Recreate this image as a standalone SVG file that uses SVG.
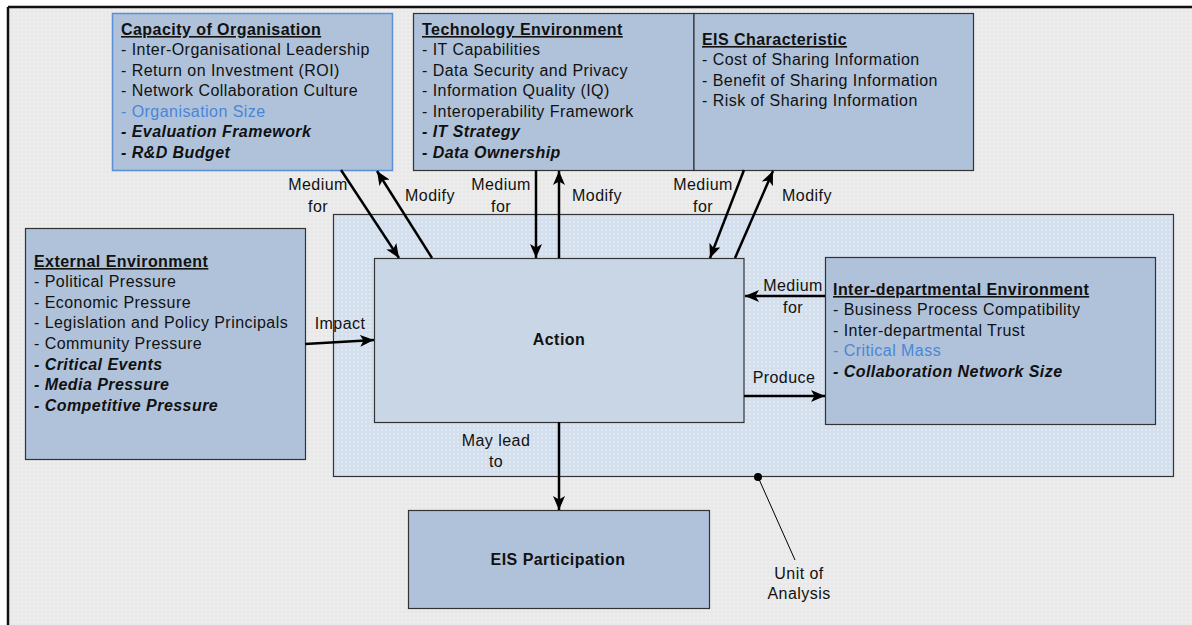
<svg xmlns="http://www.w3.org/2000/svg" width="1192" height="625" viewBox="0 0 1192 625">
  <defs>
    <!-- dotted textures for the page and the unit-of-analysis area -->
    <pattern id="dotsGrey" width="4" height="4" patternUnits="userSpaceOnUse">
      <rect width="4" height="4" fill="#e9e9e9"/>
      <circle cx="2" cy="2" r="1" fill="#f2f2f2"/>
    </pattern>
    <pattern id="dotsBlue" width="4" height="4" patternUnits="userSpaceOnUse">
      <rect width="4" height="4" fill="#d3dfed"/>
      <circle cx="2" cy="2" r="1" fill="#e4ecf5"/>
    </pattern>
    <marker id="arrow" viewBox="0 0 14 12" refX="14" refY="6" markerWidth="14" markerHeight="12" markerUnits="userSpaceOnUse" orient="auto">
      <path d="M0,0 L14,6 L0,12 L3.5,6 z" fill="#000"/>
    </marker>
    <style>
      text { font-family: "Liberation Sans", Arial, sans-serif; font-size: 16px; letter-spacing: 0.45px; fill: #111; }
      .title { font-weight: bold; text-decoration: underline; }
      .bi { font-weight: bold; font-style: italic; }
      .blue { fill: #4a86d6; }
      .center { text-anchor: middle; }
      .box { fill: #afc2da; stroke: #333; stroke-width: 1.2; }
      .conn { stroke: #000; stroke-width: 2.5; fill: none; }
    </style>
  </defs>

  <!-- page -->
  <rect x="0" y="0" width="1192" height="625" fill="#fff"/>
  <rect x="8" y="7" width="1184" height="618" fill="url(#dotsGrey)"/>
  <line x1="8" y1="7" x2="1192" y2="7" stroke="#111" stroke-width="2.5"/>
  <line x1="8" y1="7" x2="8" y2="625" stroke="#111" stroke-width="2.5"/>

  <!-- unit of analysis area -->
  <g id="unit-of-analysis">
    <rect x="333.5" y="214.5" width="840" height="262" fill="url(#dotsBlue)" stroke="#333" stroke-width="1.2"/>
  </g>

  <g id="capacity">
    <rect x="112.5" y="13.5" width="280" height="157" fill="#afc2da" stroke="#5b8fd6" stroke-width="1.5"/>
    <text x="121" y="35" class="title">Capacity of Organisation</text>
    <text x="121" y="55">- Inter-Organisational Leadership</text>
    <text x="121" y="76">- Return on Investment (ROI)</text>
    <text x="121" y="96">- Network Collaboration Culture</text>
    <text x="121" y="117" class="blue">- Organisation Size</text>
    <text x="121" y="137" class="bi">- Evaluation Framework</text>
    <text x="121" y="158" class="bi">- R&amp;D Budget</text>
  </g>

  <g id="technology">
    <rect x="413.5" y="13.5" width="280.5" height="157" class="box"/>
    <text x="422" y="35" class="title">Technology Environment</text>
    <text x="422" y="55">- IT Capabilities</text>
    <text x="422" y="76">- Data Security and Privacy</text>
    <text x="422" y="96">- Information Quality (IQ)</text>
    <text x="422" y="117">- Interoperability Framework</text>
    <text x="422" y="137" class="bi">- IT Strategy</text>
    <text x="422" y="158" class="bi">- Data Ownership</text>
  </g>

  <g id="eis-characteristic">
    <rect x="694" y="13.5" width="279.5" height="157" class="box"/>
    <text x="702" y="45" class="title">EIS Characteristic</text>
    <text x="702" y="65">- Cost of Sharing Information</text>
    <text x="702" y="86">- Benefit of Sharing Information</text>
    <text x="702" y="106">- Risk of Sharing Information</text>
  </g>

  <g id="external">
    <rect x="25.5" y="228.5" width="280" height="231" class="box"/>
    <text x="34" y="267" class="title">External Environment</text>
    <text x="34" y="287">- Political Pressure</text>
    <text x="34" y="308">- Economic Pressure</text>
    <text x="34" y="328">- Legislation and Policy Principals</text>
    <text x="34" y="349">- Community Pressure</text>
    <text x="34" y="370" class="bi">- Critical Events</text>
    <text x="34" y="390" class="bi">- Media Pressure</text>
    <text x="34" y="411" class="bi">- Competitive Pressure</text>
  </g>

  <g id="action">
    <rect x="374.5" y="258.5" width="369.5" height="164" fill="#c9d6e5" stroke="#333" stroke-width="1.2"/>
    <text x="559" y="345" class="center" style="font-weight:bold">Action</text>
  </g>

  <g id="inter-departmental">
    <rect x="825.5" y="257.5" width="330" height="167" class="box"/>
    <text x="833" y="295" class="title">Inter-departmental Environment</text>
    <text x="833" y="315">- Business Process Compatibility</text>
    <text x="833" y="336">- Inter-departmental Trust</text>
    <text x="833" y="356" class="blue">- Critical Mass</text>
    <text x="833" y="377" class="bi">- Collaboration Network Size</text>
  </g>

  <g id="eis-participation">
    <rect x="408.5" y="510.5" width="301" height="98" class="box"/>
    <text x="558" y="565" class="center" style="font-weight:bold">EIS Participation</text>
  </g>

  <g id="connectors">
    <!-- capacity of organisation -->
    <line x1="341" y1="170" x2="399" y2="258" class="conn" marker-end="url(#arrow)"/>
    <line x1="432" y1="258" x2="377" y2="171" class="conn" marker-end="url(#arrow)"/>
    <!-- technology environment -->
    <line x1="536" y1="170" x2="536" y2="258" class="conn" marker-end="url(#arrow)"/>
    <line x1="559" y1="258" x2="559" y2="171" class="conn" marker-end="url(#arrow)"/>
    <!-- EIS characteristic -->
    <line x1="744" y1="170" x2="710" y2="258" class="conn" marker-end="url(#arrow)"/>
    <line x1="735" y1="258" x2="773" y2="171" class="conn" marker-end="url(#arrow)"/>
    <!-- external environment -->
    <line x1="305" y1="344" x2="374" y2="340" class="conn" marker-end="url(#arrow)"/>
    <!-- inter-departmental environment -->
    <line x1="825" y1="296" x2="745" y2="296" class="conn" marker-end="url(#arrow)"/>
    <line x1="744" y1="396" x2="825" y2="396" class="conn" marker-end="url(#arrow)"/>
    <!-- outcome -->
    <line x1="559" y1="422" x2="559" y2="510" class="conn" marker-end="url(#arrow)"/>
    <!-- unit of analysis callout -->
    <circle cx="758" cy="477" r="4" fill="#000"/>
    <line x1="758" y1="477" x2="795" y2="560" stroke="#000" stroke-width="1"/>
  </g>

  <g id="labels">
    <text x="318" y="190" class="center">Medium</text>
    <text x="318" y="212" class="center">for</text>
    <text x="430" y="201" class="center">Modify</text>
    <text x="501" y="190" class="center">Medium</text>
    <text x="501" y="212" class="center">for</text>
    <text x="597" y="201" class="center">Modify</text>
    <text x="703" y="190" class="center">Medium</text>
    <text x="703" y="212" class="center">for</text>
    <text x="807" y="201" class="center">Modify</text>
    <text x="340" y="329" class="center">Impact</text>
    <text x="793" y="291" class="center">Medium</text>
    <text x="793" y="313" class="center">for</text>
    <text x="784" y="383" class="center">Produce</text>
    <text x="496" y="446" class="center">May lead</text>
    <text x="496" y="467" class="center">to</text>
    <text x="799" y="579" class="center">Unit of</text>
    <text x="799" y="599" class="center">Analysis</text>
  </g>
</svg>
